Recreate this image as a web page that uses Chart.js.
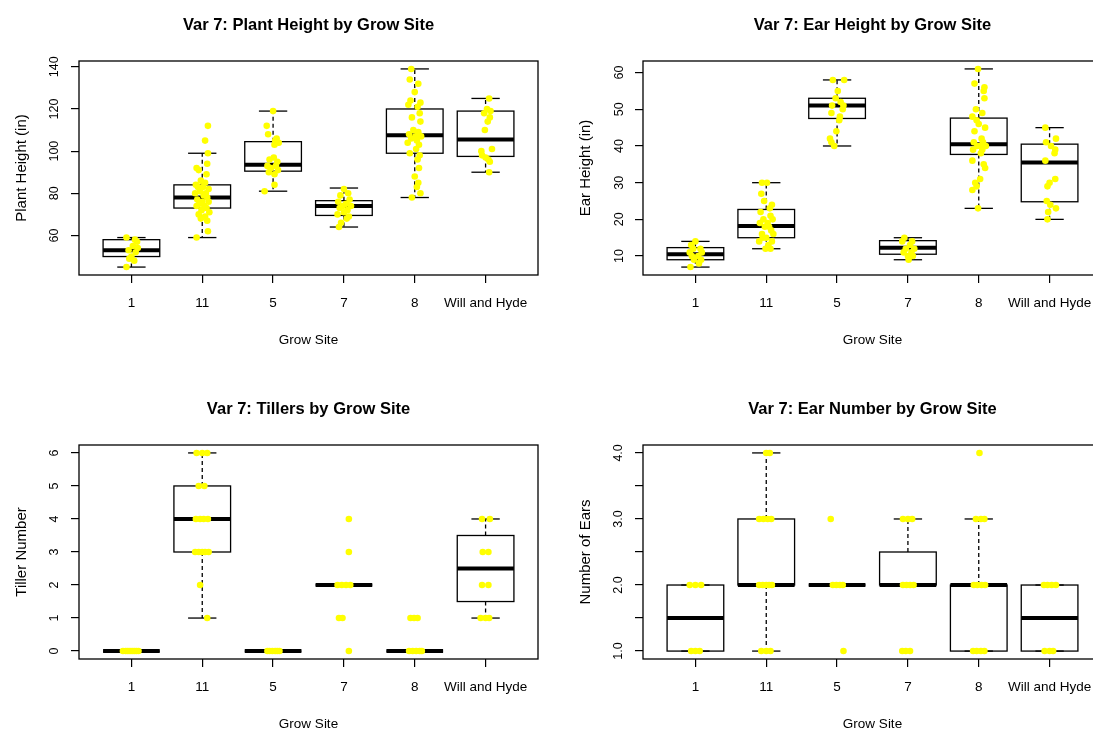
<!DOCTYPE html>
<html>
<head>
<meta charset="utf-8">
<title>Var 7 by Grow Site</title>
<script src="https://cdn.jsdelivr.net/npm/chart.js@4.4.1/dist/chart.umd.min.js"></script>
<style>
  html, body { margin: 0; padding: 0; width: 1093px; height: 733px; overflow: hidden; background: #fff; }
  canvas { position: absolute; }
</style>
</head>
<body>
<canvas id="chartPlant" width="563" height="350" style="left:0;top:5px"></canvas>
<canvas id="chartEar" width="563" height="350" style="left:564px;top:5px"></canvas>
<canvas id="chartTillers" width="563" height="350" style="left:0;top:389px"></canvas>
<canvas id="chartEarNum" width="563" height="350" style="left:564px;top:389px"></canvas>
<script>
// grow sites, in axis order
var siteNames = ["1", "11", "5", "7", "8", "Will and Hyde"];
var siteTicks = [1, 2, 3, 4, 5, 6];

// plant height (in), one list per site + horizontal jitter for each point
var plantHeight = [
    [59, 58, 57, 55, 54, 53, 52, 50, 49, 48, 45],
    [112, 105, 99, 94, 92, 91, 89, 86, 85, 84, 83, 83, 82, 81, 80, 80, 79, 78, 77, 76, 76, 75, 74, 74, 73, 72, 71, 70, 69, 68, 67, 62, 59],
    [119, 112, 108, 106, 105, 104, 103, 97, 96, 95, 93, 93, 92, 91, 90, 89, 84, 81],
    [82, 80, 79, 77, 76, 75, 74, 74, 73, 72, 71, 70, 69, 68, 66, 64],
    [139, 134, 132, 128, 124, 123, 122, 121, 118, 116, 114, 110, 109, 108, 107, 107, 106, 105, 104, 103, 101, 99, 98, 96, 92, 88, 85, 83, 80, 78],
    [125, 120, 119, 118, 116, 114, 110, 101, 100, 98, 97, 96, 95, 90]
];
var plantHeightJitter = [
    [-0.07, 0.05, 0.08, 0.02, 0.09, -0.04, 0.06, 0.0, -0.03, 0.04, -0.07],
    [0.08, 0.04, 0.08, 0.07, -0.08, -0.05, 0.06, -0.02, 0.04, -0.09, 0.01, -0.06, 0.09, -0.03, 0.05, -0.1, 0.02, 0.07, -0.07, 0.0, 0.09, -0.04, 0.03, -0.08, 0.06, -0.01, 0.1, -0.05, 0.04, -0.02, 0.07, 0.08, -0.08],
    [0.0, -0.09, -0.07, 0.05, 0.03, 0.08, 0.02, 0.01, -0.05, 0.06, -0.08, 0.04, -0.03, 0.07, -0.06, 0.02, 0.02, -0.12],
    [0.0, 0.06, -0.05, 0.08, -0.08, 0.03, -0.02, 0.1, -0.06, 0.05, 0.0, -0.09, 0.07, 0.04, -0.04, -0.07],
    [-0.05, -0.07, 0.05, 0.0, -0.06, 0.08, -0.09, 0.04, 0.07, -0.04, 0.08, -0.02, 0.05, -0.08, 0.01, 0.09, -0.05, 0.03, -0.1, 0.06, 0.02, -0.07, 0.07, 0.04, 0.06, 0.0, 0.05, 0.03, 0.08, -0.04],
    [0.05, 0.02, 0.07, -0.02, 0.06, 0.03, -0.01, 0.09, -0.06, -0.05, 0.0, 0.04, 0.06, 0.05]
];
// [lower whisker, Q1, median, Q3, upper whisker]
var plantHeightBoxes = [
    [45, 50, 53, 58, 59],
    [59, 73, 78, 84, 99],
    [81, 90.5, 93.5, 104.5, 119],
    [64, 69.5, 74, 76.5, 82.5],
    [78, 99, 107.5, 120, 139],
    [90, 97.5, 105.5, 119, 125]
];
var plantHeightTicks = [60, 80, 100, 120, 140];

// ear height (in)
var earHeight = [
    [14, 13, 12, 12, 11, 11, 10, 10, 9, 9, 8, 7],
    [30, 30, 27, 25, 24, 23, 22, 21, 20, 20, 19, 19, 18, 18, 17, 16, 16, 15, 15, 14, 14, 13, 12, 12],
    [58, 58, 55, 53, 52, 51, 51, 50, 49, 48, 47, 44, 42, 41, 40],
    [15, 14, 14, 13, 12, 12, 11, 11, 10, 10, 9],
    [61, 57, 56, 55, 53, 50, 49, 48, 47, 46, 45, 44, 42, 41, 41, 40, 40, 40, 39, 39, 38, 36, 35, 34, 31, 30, 29, 28, 23],
    [45, 42, 41, 40, 39, 38, 36, 31, 30, 29, 25, 24, 23, 22, 20]
];
var earHeightJitter = [
    [0.0, -0.06, 0.07, -0.03, 0.09, -0.08, 0.04, -0.05, 0.08, -0.02, 0.05, -0.07],
    [-0.06, 0.01, -0.07, -0.03, 0.08, 0.05, -0.08, 0.06, -0.04, 0.09, 0.02, -0.09, 0.04, -0.02, 0.07, -0.06, 0.1, 0.0, -0.05, 0.08, -0.1, 0.03, -0.01, 0.06],
    [-0.06, 0.1, 0.01, -0.02, 0.05, -0.07, 0.09, 0.08, -0.08, 0.04, 0.03, -0.01, -0.1, -0.08, -0.04],
    [-0.05, 0.06, -0.08, 0.03, -0.03, 0.09, 0.05, -0.06, 0.0, 0.07, 0.01],
    [-0.01, -0.06, 0.08, 0.07, 0.08, -0.04, 0.05, -0.09, -0.03, 0.0, 0.09, -0.06, 0.04, -0.07, 0.06, 0.02, -0.02, 0.1, -0.08, 0.05, 0.03, -0.09, 0.07, 0.09, 0.02, -0.05, -0.03, -0.09, -0.01],
    [-0.06, 0.09, -0.05, 0.02, 0.08, 0.07, -0.06, 0.08, 0.0, -0.03, -0.04, 0.01, 0.09, -0.02, -0.03]
];
var earHeightBoxes = [
    [7, 9, 10.5, 12.3, 14],
    [12, 15, 18.2, 22.7, 30],
    [40, 47.5, 51, 53, 58],
    [9, 10.5, 12.3, 14.2, 15],
    [23, 37.7, 40.5, 47.6, 61],
    [20, 24.8, 35.5, 40.5, 45]
];
var earHeightTicks = [10, 20, 30, 40, 50, 60];

// tiller counts
var tillers = [
    [0, 0, 0, 0, 0, 0, 0, 0],
    [6, 6, 6, 5, 5, 4, 4, 4, 4, 3, 3, 3, 3, 3, 2, 1],
    [0, 0, 0, 0, 0, 0],
    [4, 3, 2, 2, 2, 2, 1, 1, 0],
    [1, 1, 1, 0, 0, 0, 0, 0],
    [4, 4, 3, 3, 2, 2, 1, 1, 1]
];
var tillersJitter = [
    [-0.12, -0.08, -0.05, -0.02, 0.01, 0.04, 0.07, 0.1],
    [-0.08, 0.0, 0.07, -0.05, 0.03, -0.09, -0.03, 0.02, 0.08, -0.1, -0.05, 0.0, 0.04, 0.09, -0.03, 0.07],
    [-0.08, -0.05, -0.01, 0.03, 0.06, 0.09],
    [0.07, 0.07, -0.09, -0.03, 0.03, 0.09, -0.07, -0.02, 0.07],
    [-0.06, -0.01, 0.04, -0.08, -0.03, 0.02, 0.07, 0.1],
    [-0.05, 0.06, -0.04, 0.04, -0.05, 0.04, -0.07, 0.0, 0.05]
];
var tillersBoxes = [
    [0, 0, 0, 0, 0],
    [1, 3, 4, 5, 6],
    [0, 0, 0, 0, 0],
    [2, 2, 2, 2, 2],
    [0, 0, 0, 0, 0],
    [1, 1.5, 2.5, 3.5, 4]
];
var tillersTicks = [0, 1, 2, 3, 4, 5, 6];

// number of ears
var earNumber = [
    [2, 2, 2, 1, 1, 1],
    [4, 4, 3, 3, 3, 3, 2, 2, 2, 2, 2, 1, 1, 1],
    [3, 2, 2, 2, 2, 1],
    [3, 3, 3, 2, 2, 2, 2, 1, 1, 1],
    [4, 3, 3, 3, 2, 2, 2, 2, 1, 1, 1, 1],
    [2, 2, 2, 2, 1, 1, 1]
];
var earNumberJitter = [
    [-0.08, 0.0, 0.08, -0.06, 0.0, 0.06],
    [0.0, 0.05, -0.1, -0.04, 0.02, 0.07, -0.1, -0.05, 0.0, 0.04, 0.08, -0.07, 0.0, 0.06],
    [-0.09, -0.06, -0.01, 0.04, 0.08, 0.09],
    [-0.07, 0.0, 0.06, -0.07, -0.02, 0.03, 0.08, -0.08, -0.03, 0.03],
    [0.01, -0.04, 0.03, 0.08, -0.07, -0.02, 0.04, 0.09, -0.08, -0.03, 0.03, 0.08],
    [-0.08, -0.03, 0.03, 0.09, -0.07, 0.0, 0.05]
];
var earNumberBoxes = [
    [1, 1, 1.5, 2, 2],
    [1, 2, 2, 3, 4],
    [2, 2, 2, 2, 2],
    [2, 2, 2, 2.5, 3],
    [1, 1, 2, 2, 3],
    [1, 1, 1.5, 2, 2]
];
var earNumberTicks = [1, 1.5, 2, 2.5, 3, 3.5, 4];

Chart.defaults.font.family = "'Liberation Sans', Arial, sans-serif";
Chart.defaults.color = "#000";

// draws boxes, whiskers and medians under the points, then the frame on top
function boxLayer(stats) {
    return {
        id: "boxLayer",
        beforeDatasetsDraw: function(chart) {
            var ctx = chart.ctx;
            var xs = chart.scales.x;
            var ys = chart.scales.y;
            function line(x1, y1, x2, y2) {
                ctx.beginPath();
                ctx.moveTo(x1, y1);
                ctx.lineTo(x2, y2);
                ctx.stroke();
            }
            ctx.save();
            ctx.strokeStyle = "#000";
            ctx.lineCap = "butt";
            for (var i = 0; i < stats.length; i++) {
                var s = stats[i];
                var c = xs.getPixelForValue(i + 1);
                var l = xs.getPixelForValue(i + 1 - 0.4);
                var r = xs.getPixelForValue(i + 1 + 0.4);
                var sl = xs.getPixelForValue(i + 1 - 0.2);
                var sr = xs.getPixelForValue(i + 1 + 0.2);
                var yLo = ys.getPixelForValue(s[0]);
                var yQ1 = ys.getPixelForValue(s[1]);
                var yMed = ys.getPixelForValue(s[2]);
                var yQ3 = ys.getPixelForValue(s[3]);
                var yHi = ys.getPixelForValue(s[4]);

                ctx.lineWidth = 1.3;
                ctx.setLineDash([4, 3]);
                line(c, yQ3, c, yHi);
                line(c, yQ1, c, yLo);
                ctx.setLineDash([]);
                line(sl, yHi, sr, yHi);
                line(sl, yLo, sr, yLo);
                ctx.strokeRect(l, yQ3, r - l, yQ1 - yQ3);

                ctx.lineWidth = 4;
                line(l, yMed, r, yMed);
            }
            ctx.restore();
        },
        afterDraw: function(chart) {
            var a = chart.chartArea;
            var ctx = chart.ctx;
            ctx.save();
            ctx.strokeStyle = "#000";
            ctx.lineWidth = 1.3;
            ctx.strokeRect(a.left, a.top, a.right - a.left, a.bottom - a.top);
            ctx.restore();
        }
    };
}

function makeChart(id, title, yTitle, values, jitter, stats, yTicks, yPad, yFormat) {
    var points = [];
    for (var i = 0; i < values.length; i++) {
        for (var j = 0; j < values[i].length; j++) {
            points.push({ x: siteTicks[i] + jitter[i][j], y: values[i][j] });
        }
    }

    // R style axis range: data range plus 4% each side
    var all = values.flat().concat(stats.flat());
    var lo = Math.min.apply(null, all);
    var hi = Math.max.apply(null, all);
    var pad = (hi - lo) * 0.04;

    return new Chart(document.getElementById(id), {
        type: "scatter",
        data: {
            datasets: [{
                data: points,
                pointRadius: 3.3,
                pointBackgroundColor: "#ffff00",
                pointBorderWidth: 0,
                showLine: false
            }]
        },
        options: {
            responsive: false,
            animation: false,
            layout: { padding: { left: 0, right: 25, top: 0, bottom: 0 } },
            plugins: {
                legend: { display: false },
                tooltip: { enabled: false },
                title: {
                    display: true,
                    text: title,
                    fullSize: false,
                    color: "#000",
                    font: { size: 16.5, weight: "bold" },
                    padding: { top: 10.3, bottom: 25.9 }
                }
            },
            scales: {
                x: {
                    type: "linear",
                    min: 0.5 - 6 * 0.04,
                    max: 6.5 + 6 * 0.04,
                    afterBuildTicks: function(s) {
                        s.ticks = siteTicks.map(function(v) { return { value: v }; });
                    },
                    afterFit: function(s) { s.height = 80; },
                    ticks: {
                        autoSkip: false,
                        maxRotation: 0,
                        minRotation: 0,
                        padding: 12,
                        color: "#000",
                        font: { size: 13.5 },
                        callback: function(v, i) { return siteNames[i]; }
                    },
                    grid: { drawOnChartArea: false, drawTicks: true, tickLength: 8, color: "#000", lineWidth: 1.2 },
                    border: { display: false },
                    title: {
                        display: true,
                        text: "Grow Site",
                        color: "#000",
                        font: { size: 13.5 },
                        padding: { top: 0, bottom: 7 }
                    }
                },
                y: {
                    type: "linear",
                    min: lo - pad,
                    max: hi + pad,
                    afterBuildTicks: function(s) {
                        s.ticks = yTicks.map(function(v) { return { value: v }; });
                    },
                    afterFit: function(s) { s.width = 79; },
                    ticks: {
                        minRotation: 90,
                        maxRotation: 90,
                        crossAlign: "center",
                        padding: yPad,
                        color: "#000",
                        font: { size: 12.5 },
                        callback: yFormat
                    },
                    grid: { drawOnChartArea: false, drawTicks: true, tickLength: 8, color: "#000", lineWidth: 1.2 },
                    border: { display: false },
                    title: {
                        display: true,
                        text: yTitle,
                        color: "#000",
                        font: { size: 15 },
                        padding: { top: 12.7, bottom: 0 }
                    }
                }
            }
        },
        plugins: [boxLayer(stats)]
    });
}

function plain(v) { return String(v); }
function oneDecimal(v) { return v % 1 === 0 ? v.toFixed(1) : ""; }

makeChart("chartPlant", "Var 7: Plant Height by Grow Site", "Plant Height (in)",
    plantHeight, plantHeightJitter, plantHeightBoxes, plantHeightTicks, 5.6, plain);
makeChart("chartEar", "Var 7: Ear Height by Grow Site", "Ear Height (in)",
    earHeight, earHeightJitter, earHeightBoxes, earHeightTicks, 9, plain);
makeChart("chartTillers", "Var 7: Tillers by Grow Site", "Tiller Number",
    tillers, tillersJitter, tillersBoxes, tillersTicks, 12.5, plain);
makeChart("chartEarNum", "Var 7: Ear Number by Grow Site", "Number of Ears",
    earNumber, earNumberJitter, earNumberBoxes, earNumberTicks, 7.3, oneDecimal);
</script>
</body>
</html>
